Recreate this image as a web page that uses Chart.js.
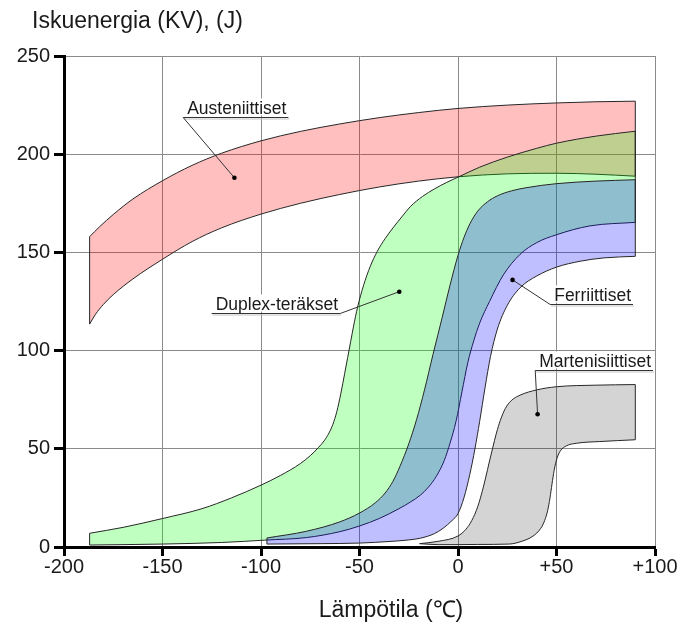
<!DOCTYPE html>
<html lang="fi">
<head>
<meta charset="utf-8">
<title>Iskuenergia ja lämpötila</title>
<script src="https://cdn.jsdelivr.net/npm/chart.js@4.4.1/dist/chart.umd.min.js"></script>
<style>
  html, body { margin: 0; padding: 0; background: #fff; }
  canvas { display: block; }
</style>
</head>
<body>
<canvas id="kvChart" width="681" height="624"></canvas>
<script>
// ================= Iskuenergia (KV) lämpötilan funktiona =================
const FONT = '"Liberation Sans", Arial, Helvetica, sans-serif';

// akselit
const tempTicks = [-200, -150, -100, -50, 0, 50, 100];
const tempTickLabels = ['-200', '-150', '-100', '-50', '0', '+50', '+100'];
const energyTicks = [0, 50, 100, 150, 200, 250];

// Austeniittiset
const austTemp  = [-187, -182, -175, -165, -150, -135, -120, -100, -80, -60, -40, -20, 0, 25, 50, 70, 90];
const austUpper = [158, 163, 169.3, 177.2, 186.5, 194.3, 200.5, 206.8, 211.6, 215.4, 218.6, 221.2, 223.3, 225, 226.1, 226.7, 227];
const austLoTemp = [-187, -184, -180, -175, -165, -150, -135, -120, -100, -80, -60, -40, -20, 0, 25, 50, 70, 90];
const austLower  = [113.5, 118.5, 123.5, 128.5, 136.5, 146.5, 155.5, 162.5, 169.5, 175, 179.5, 183.3, 186.3, 188.5, 190, 190.3, 189.8, 188.8];

// Duplex-teräkset
const duplexUpTemp = [-187, -170, -150, -130, -115, -100, -90, -80, -75, -71, -68, -65.5, -63.5, -61.5, -59.5, -57.5, -56, -54.5, -53, -51, -48, -44.5, -41, -37, -33, -29, -24, -18, -12, -6, 0, 11, 25, 40, 50, 70, 90];
const duplexUpper  = [7, 10, 14.5, 19.5, 25, 31.5, 36.5, 42.5, 46.5, 50.5, 54, 58, 62.5, 69, 78, 88.5, 96.5, 104.5, 112.5, 122, 133, 143, 150.5, 157, 162.5, 167.5, 173.5, 178.5, 182.3, 185.5, 188.3, 193.4, 198.5, 203, 205.6, 209.2, 211.7];
const duplexLoTemp = [-187, -150, -120, -98, -77, -60, -50, -40, -30, -24, -19, -15, -11, -7, -4, -1, 2, 5, 8, 11, 16, 23, 31.5, 40, 50, 67, 90];
const duplexLower  = [1, 1.5, 2.3, 3.5, 4.8, 7.8, 10.7, 14.5, 19.5, 23, 26.5, 30.5, 36, 44, 53, 64, 79, 94, 105, 114, 125, 138.5, 149, 155, 159, 163.5, 165.3];

// Ferriittiset
const ferUpTemp = [-97, -77, -60, -50, -42, -37, -33, -29.5, -25, -21, -17, -12.7, -8, -4, 0, 3, 6, 10, 15, 20, 27, 35, 50, 70, 90];
const ferUpper  = [4.6, 8, 12.8, 17.3, 22.5, 27.5, 33.5, 41, 52.5, 65, 80, 98, 117, 133.5, 148.5, 157.5, 164.5, 171, 175.8, 178.8, 181.3, 183, 185, 186.3, 187];
const ferLoTemp = [-97, -70, -50, -35, -25, -19, -12, -7.6, -3, 0, 3, 6, 8.6, 11, 13.7, 16.5, 20, 25, 31.5, 40, 50, 62, 74, 90];
const ferLower  = [1.5, 1.7, 2, 2.8, 3.6, 4.5, 6.8, 9.5, 13.5, 17, 25, 37, 50, 64, 81, 97, 111, 123, 132, 138, 142.5, 145.5, 147.2, 148];

// Martenisiittiset
const martUpTemp = [-19.5, -10, 0, 4, 7, 10, 13, 15, 17.5, 19.5, 21.5, 24, 27, 31.5, 40, 50, 70, 90];
const martUpper  = [1.7, 2.9, 5.6, 9, 13.5, 20.5, 31, 39.5, 50, 58, 64.5, 70.5, 74.5, 77.3, 80, 81.6, 82.4, 82.7];
const martLoTemp = [-19.5, -10, 0, 10, 26, 32, 38, 42, 44, 45.5, 46.7, 47.7, 48.8, 50.2, 52, 55, 60, 72, 90];
const martLower  = [1.7, 1.2, 1.2, 1.3, 1.5, 2.8, 5.5, 9.5, 13.5, 18.5, 25, 32, 39, 45, 49, 51.5, 52.8, 53.7, 54.6];

// nimiöt: piste alueen sisällä ja hyllyviivan kiinnityskohta (°C, J)
const calloutNames = ['Austeniittiset', 'Duplex-teräkset', 'Ferriittiset', 'Martenisiittiset'];
const calloutDots  = [[-113.5, 188], [-29.8, 130], [27.7, 136], [40.4, 67.6]];
const calloutShelf = [[-139.5, 219], [-59.8, 119.1], [46.8, 123.9], [39.2, 90]];
const calloutSide  = ['left', 'right', 'left', 'left'];

const pts = (xs, ys) => xs.map((t, i) => ({ x: t, y: ys[i] }));

// ylin piirretään viimeisenä -> listan alkuun
const bands = [
  { upT: martUpTemp,   up: martUpper,   loT: martLoTemp,   lo: martLower,   color: 'rgba(0,0,0,0.17)',   leftEdge: false },
  { upT: ferUpTemp,    up: ferUpper,    loT: ferLoTemp,    lo: ferLower,    color: 'rgba(0,0,255,0.25)', leftEdge: true },
  { upT: duplexUpTemp, up: duplexUpper, loT: duplexLoTemp, lo: duplexLower, color: 'rgba(0,255,0,0.25)', leftEdge: true },
  { upT: austTemp,     up: austUpper,   loT: austLoTemp,   lo: austLower,   color: 'rgba(255,0,0,0.25)', leftEdge: true }
];

const curve = { borderColor: '#262626', borderWidth: 1, pointRadius: 0, cubicInterpolationMode: 'monotone' };
const datasets = [];
bands.forEach(b => {
  datasets.push({ ...curve, data: pts(b.upT, b.up), fill: false });
  datasets.push({ ...curve, data: pts(b.loT, b.lo), fill: '-1', backgroundColor: b.color });
});
// pystysuorat päätyviivat alueiden reunoille
bands.forEach(b => {
  const last = b.up.length - 1, lastLo = b.lo.length - 1;
  const edges = [[{ x: b.loT[lastLo], y: b.lo[lastLo] }, { x: b.upT[last], y: b.up[last] }]];
  if (b.leftEdge) edges.push([{ x: b.loT[0], y: b.lo[0] }, { x: b.upT[0], y: b.up[0] }]);
  edges.forEach(e => datasets.push({ data: e, borderColor: '#262626', borderWidth: 1, pointRadius: 0, tension: 0, fill: false, order: -1 }));
});

const textPlugin = {
  id: 'kvText',
  afterDatasetsDraw(chart) {
    const { ctx, scales: { x, y } } = chart;
    ctx.save();
    ctx.font = '17.5px ' + FONT;
    ctx.textBaseline = 'alphabetic';
    calloutNames.forEach((name, i) => {
      const w = ctx.measureText(name).width;
      const dx = x.getPixelForValue(calloutDots[i][0]), dy = y.getPixelForValue(calloutDots[i][1]);
      const sx = x.getPixelForValue(calloutShelf[i][0]), sy = Math.round(y.getPixelForValue(calloutShelf[i][1])) + 0.5;
      const x0 = calloutSide[i] === 'left' ? sx : sx - w - 6;
      const x1 = x0 + w + 6;
      ctx.fillStyle = '#fff';
      ctx.fillRect(x0 + 1, sy - 19, w + 5, 17);
      ctx.fillStyle = '#1a1a1a';
      ctx.textAlign = 'left';
      ctx.fillText(name, x0 + 4, sy - 4);
      // hylly + varjo
      ctx.lineWidth = 1;
      ctx.strokeStyle = '#c4c4c4';
      ctx.beginPath(); ctx.moveTo(x0 + 1, sy + 1.5); ctx.lineTo(x1 + 1, sy + 1.5); ctx.stroke();
      ctx.strokeStyle = '#333';
      ctx.beginPath(); ctx.moveTo(x0, sy); ctx.lineTo(x1, sy); ctx.stroke();
      ctx.beginPath(); ctx.moveTo(sx, sy); ctx.lineTo(dx, dy); ctx.stroke();
      ctx.fillStyle = '#000';
      ctx.beginPath(); ctx.arc(dx, dy, 2.3, 0, Math.PI * 2); ctx.fill();
    });
    // akselien otsikot
    ctx.fillStyle = '#1a1a1a';
    ctx.font = '23px ' + FONT;
    ctx.textAlign = 'left';
    ctx.fillText('Iskuenergia (KV), (J)', 32, 28);
    ctx.textAlign = 'center';
    ctx.fillText('Lämpötila (\u2103)', 391, 617);
    ctx.restore();
  }
};

const axisGrid = { color: '#8a8a8a', lineWidth: 1, tickColor: '#000', tickWidth: 3 };

new Chart(document.getElementById('kvChart'), {
  type: 'line',
  data: { datasets },
  options: {
    responsive: false,
    animation: false,
    layout: { padding: { top: 56, right: 26, left: 0, bottom: 0 } },
    plugins: { legend: { display: false }, tooltip: { enabled: false } },
    scales: {
      x: {
        type: 'linear', min: tempTicks[0], max: tempTicks[tempTicks.length - 1],
        afterBuildTicks: s => { s.ticks = tempTicks.map(v => ({ value: v })); },
        afterFit: s => { s.height = 77; },
        ticks: {
          autoSkip: false, maxRotation: 0, padding: -1, color: '#1a1a1a',
          font: { size: 20, family: FONT },
          callback: v => tempTickLabels[tempTicks.indexOf(v)]
        },
        grid: { ...axisGrid, tickLength: 9 },
        border: { color: '#000', width: 3 }
      },
      y: {
        type: 'linear', min: energyTicks[0], max: energyTicks[energyTicks.length - 1],
        afterBuildTicks: s => { s.ticks = energyTicks.map(v => ({ value: v })); },
        afterFit: s => { s.width = 64; },
        ticks: { padding: 4, color: '#1a1a1a', font: { size: 20, family: FONT } },
        grid: { ...axisGrid, tickLength: 10 },
        border: { color: '#000', width: 3 }
      }
    }
  },
  plugins: [textPlugin]
});
</script>
</body>
</html>
